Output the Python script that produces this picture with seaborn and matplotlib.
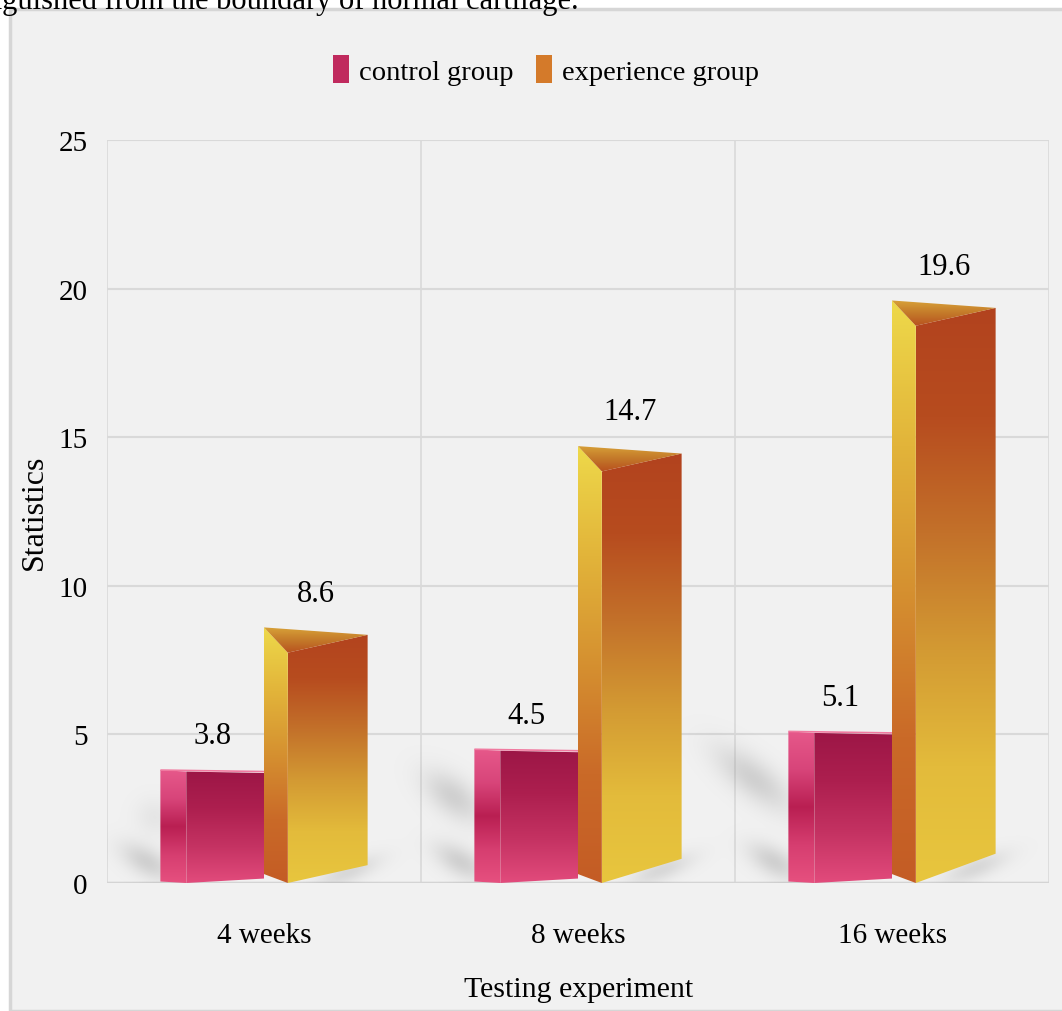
import numpy as np
import pandas as pd
import matplotlib
matplotlib.use("Agg")
import matplotlib.pyplot as plt
import seaborn as sns
from matplotlib.colors import LinearSegmentedColormap
from matplotlib.patches import Polygon, Rectangle

# ---- data ----
periods = ["4 weeks", "8 weeks", "16 weeks"]
groups = ["control group", "experience group"]
control_values = [3.8, 4.5, 5.1]
experience_values = [8.6, 14.7, 19.6]
y_ticks = [0, 5, 10, 15, 20, 25]

df = pd.DataFrame({
    "period": periods * 2,
    "group": [groups[0]] * 3 + [groups[1]] * 3,
    "value": control_values + experience_values,
})

sns.set_theme(style="white")
plt.rcParams["font.family"] = ["Liberation Serif", "DejaVu Serif"]
for key in ["text.color", "axes.labelcolor", "xtick.color", "ytick.color"]:
    plt.rcParams[key] = "black"

W, H = 1062, 1012
fig = plt.figure(figsize=(W / 100, H / 100), dpi=100)
fig.patch.set_facecolor("white")

# panel background with thin border
panel = Rectangle((10 / W, 0), 1.2, (H - 10) / H, transform=fig.transFigure,
                  facecolor="#f1f1f1", edgecolor="#d6d6d6", lw=2.5, zorder=0)
fig.add_artist(panel)
fig.text(579 / W, 1.0 - 1 / H, "tinguished from the boundary of normal cartilage.",
         fontsize=22, ha="right", va="center", color="black")

AX_L, AX_R, AX_T, AX_B = 107, 1049, 141, 884
ax = fig.add_axes([AX_L / W, 1 - AX_B / H, (AX_R - AX_L) / W, (AX_B - AX_T) / H])
ax.set_facecolor("none")

palette = {groups[0]: "#b8255a", groups[1]: "#d07a2a"}
sns.barplot(data=df, x="period", y="value", hue="group", hue_order=groups,
            order=periods, palette=palette, width=0.66, ax=ax,
            errorbar=None, legend=False, zorder=3)

ax.set_ylim(0, 25)
ax.set_xlim(-0.5, 2.5)
ax.set_yticks(y_ticks)
ax.set_yticklabels([str(t) for t in y_ticks], fontsize=21)
ax.set_xticks(range(3))
ax.set_xticklabels(periods, fontsize=21)
ax.set_xticks([-0.5, 0.5, 1.5, 2.5], minor=True)
ax.tick_params(axis="x", which="major", length=0, pad=28)
ax.tick_params(axis="x", which="minor", length=14, width=1.2, color="#d9d9d9")
ax.tick_params(axis="y", length=0, pad=14)
ax.grid(axis="y", color="#d9d9d9", lw=1.5, zorder=0)
ax.grid(axis="x", which="minor", color="#d9d9d9", lw=1.2, zorder=0)
for s in ax.spines.values():
    s.set_visible(False)
ax.axhline(0, color="#d4d4d4", lw=2.5, zorder=1)
ax.set_xlabel("")
ax.set_ylabel("")

fig.text(579 / W, 1 - 990 / H, "Testing experiment", fontsize=21.5,
         ha="center", va="center")
fig.text(34 / W, 1 - 512 / H, "Statistics", fontsize=23, rotation=90,
         ha="center", va="center")

PX_X = (AX_R - AX_L) / 3.0      # pixels per category unit
PX_Y = (AX_B - AX_T) / 25.0     # pixels per value unit


def vgrad(stops):
    cmap = LinearSegmentedColormap.from_list("g", stops)
    v = np.linspace(0, 1, 256)
    return cmap(v)[:, None, :3]


def fill_poly(pts, stops, y0, y1, x0, x1, z):
    poly = Polygon(pts, closed=True, facecolor="none", edgecolor="none",
                   transform=ax.transData)
    ax.add_patch(poly)
    im = ax.imshow(vgrad(stops), extent=[x0, x1, y0, y1], origin="upper",
                   aspect="auto", zorder=z, interpolation="bilinear")
    im.set_clip_path(poly)


ctrl_front = ["#9c1646", "#ad1f4f", "#c43262", "#e24b7c"]
ctrl_side = ["#e6588a", "#d8457a", "#b91f52", "#d63e70", "#e6507f"]
exp_front = ["#b2421e", "#b74c1f", "#c3712a", "#d39a33", "#e3bb3b", "#e8c63e"]
exp_side = ["#eed94a", "#e2b43a", "#d59030", "#ca6a28", "#c45c25"]
exp_cap = ["#d8a238", "#c47a2a", "#b8521f"]

bars = list(ax.patches)
n = len(periods)
ctrl_bars, exp_bars = bars[:n], bars[n:]

# soft drop shadows, built as gaussian blobs in pixel space
gx = np.linspace(-0.5, 2.5, AX_R - AX_L)
gy = np.linspace(25, 0, AX_B - AX_T)
GX, GY = np.meshgrid(gx * PX_X, gy * PX_Y)
shade = np.zeros_like(GX)


def blob(cx, cy, sa, sb, ang, amp):
    """cx, cy in data units; sigmas in pixels; angle in degrees (screen)."""
    px, py = cx * PX_X, cy * PX_Y
    t = np.deg2rad(ang)
    dx, dy = GX - px, GY - py
    u = dx * np.cos(t) - dy * np.sin(t)
    v = dx * np.sin(t) + dy * np.cos(t)
    return amp * np.exp(-0.5 * ((u / sa) ** 2 + (v / sb) ** 2))


for i in range(n):
    cb, eb = ctrl_bars[i], exp_bars[i]
    x0, hc = cb.get_x(), cb.get_height()
    he = eb.get_height()
    reach = max(hc - 3.8, 0.0)
    # upper streak near the top of the short bar
    shade += blob(x0 - (6 + 22 * reach) / PX_X, hc - 1.6,
                  14 + 14 * reach, 13, 38, 0.26 * min(1.0, 0.35 + reach))
    # lower pool near the floor
    shade += blob(x0 - 14 / PX_X, 0.7, 20, 10, 30, 0.26)
    # floor shadow to the right of the tall bar
    ex1 = eb.get_x() + eb.get_width()
    shade += blob(ex1 - 20 / PX_X, 0.25 + 0.012 * he, 24, 8, -22, 0.2)

shade = np.clip(shade, 0, 0.4)
rgba = np.zeros(shade.shape + (4,))
rgba[..., :3] = 0.45
rgba[..., 3] = shade
ax.imshow(rgba, extent=[-0.5, 2.5, 0, 25], origin="upper", aspect="auto",
          zorder=2, interpolation="bilinear")

# control bars: box with lighter left face
for b in ctrl_bars:
    x0, w, h = b.get_x(), b.get_width(), b.get_height()
    b.set_facecolor("none")
    b.set_edgecolor("none")
    xs = x0 + 0.25 * w
    x1 = x0 + w
    fill_poly([(x0, 0.05), (x0, h), (xs, h - 0.05), (xs, 0.0)],
              ctrl_side, 0, h, x0, xs, 4)
    fill_poly([(xs, 0.0), (xs, h - 0.05), (x1, h - 0.1), (x1, 0.15)],
              ctrl_front, 0, h, xs, x1, 4)
    ax.plot([x0, x1], [h, h - 0.05], color="#f07aa0", lw=1.2, zorder=5,
            solid_capstyle="butt")

# experience bars: prism with yellow left face and triangular top
for b in exp_bars:
    x0, w, h = b.get_x(), b.get_width(), b.get_height()
    b.set_facecolor("none")
    b.set_edgecolor("none")
    xs = x0 + 0.23 * w
    x1 = x0 + w
    cap = 0.85
    lift = 0.3 + 0.035 * h
    fill_poly([(x0, 0.3), (x0, h), (xs, h - cap), (xs, 0.0)],
              exp_side, 0, h, x0, xs, 6)
    fill_poly([(xs, 0.0), (xs, h - cap), (x1, h - 0.25), (x1, lift)],
              exp_front, 0, h, xs, x1, 6)
    fill_poly([(x0, h), (x1, h - 0.25), (xs, h - cap)],
              exp_cap, h - cap, h, x0, x1, 7)

# value labels
for b, v in zip(ctrl_bars + exp_bars, control_values + experience_values):
    ax.text(b.get_x() + b.get_width() / 2, v + 1.15, f"{v}", ha="center",
            va="center", fontsize=22, color="black", zorder=8)

# legend
handles = [Rectangle((0, 0), 1, 1, facecolor="#c02a5e", edgecolor="none"),
           Rectangle((0, 0), 1, 1, facecolor="#d47a2a", edgecolor="none")]
fig.legend(handles, groups, loc="center", bbox_to_anchor=(0.514, 1 - 71 / H),
           ncol=2, frameon=False, fontsize=20.5, handlelength=0.55,
           handleheight=1.15, handletextpad=0.35, columnspacing=0.8)

fig.savefig("out.png", dpi=100, facecolor="white")
